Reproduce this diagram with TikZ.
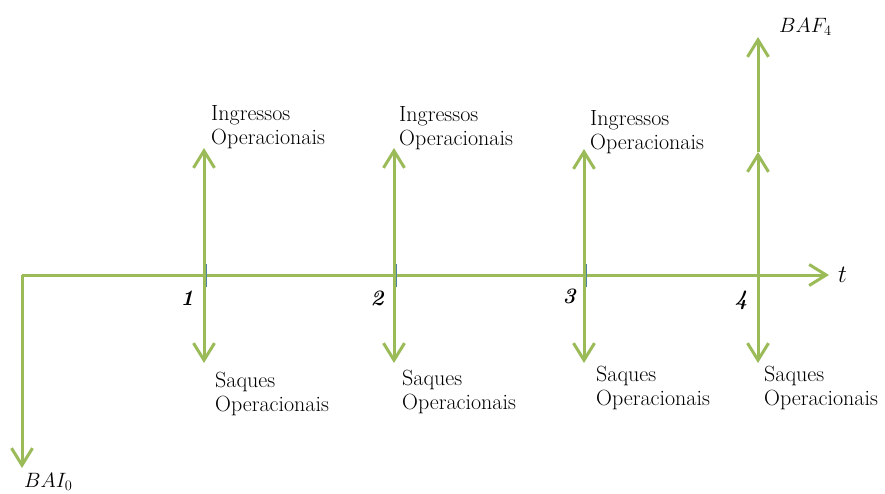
\documentclass[tikz,border=0pt]{standalone}
\usepackage{amsmath, amssymb}
\usepackage{xcolor}
\usepackage{tikz}
\usetikzlibrary{arrows.meta, positioning, calc}
\definecolor{flowgreen}{RGB}{155,187,89}
\definecolor{tickblue}{RGB}{79,129,160}

\begin{document}
\begin{tikzpicture}[x=1pt, y=-1pt,
  flow/.style={flowgreen, line width=3pt, -{Straight Barb[length=17pt, width=21pt, line width=3pt]}},
  tickmark/.style={tickblue, line width=1.2pt},
  flowlabel/.style={anchor=base west, align=left, inner sep=0pt, font=\fontsize{22}{24}\selectfont},
  periodlabel/.style={anchor=base, inner sep=0pt, font=\fontsize{22}{24}\selectfont\bfseries\itshape},
  mathlabel/.style={anchor=base west, inner sep=0pt, font=\fontsize{21}{24}\selectfont}
]
  \useasboundingbox (0,0) rectangle (885,493);
  % time axis
  \coordinate (p0) at (22,275);
  \coordinate (p1) at (204,275);
  \coordinate (p2) at (394,275);
  \coordinate (p3) at (584,275);
  \coordinate (p4) at (758,275);
  \coordinate (tend) at (829,275);
  \coordinate (bai0) at (22,468);
  \draw[flowgreen, line width=3pt] (p0) -- (p4);
  \draw[flow] (p0) -- (bai0);
  \draw[flow] (p4) -- (tend);
  \node[mathlabel] (tlab) at (838,282) {\fontsize{27}{30}\selectfont$t$};
  \node[mathlabel] (bai) at (24,487) {$BAI_0$};
  % small ticks
  \draw[tickmark] ($(p1)+(2,-11)$) -- ($(p1)+(2,12)$);
  \draw[tickmark] ($(p2)+(2,-11)$) -- ($(p2)+(2,12)$);
  \draw[tickmark] ($(p3)+(2,-11)$) -- ($(p3)+(2,12)$);
  % period labels
  \node[periodlabel] (n1) at (187,305) {1};
  \node[periodlabel] (n2) at (377,305) {2};
  \node[periodlabel] (n3) at (569,303) {3};
  \node[periodlabel] (n4) at (741,305) {4};
  % inflows
  \coordinate (in1) at (204,148);
  \coordinate (in2) at (394,148);
  \coordinate (in3) at (584,149);
  \coordinate (in4) at (758,152);
  \coordinate (baf) at (758,37);
  \draw[flow] (p1) -- (in1);
  \draw[flow] (p2) -- (in2);
  \draw[flow] (p3) -- (in3);
  \draw[flow] (p4) -- (in4);
  \draw[flow] (in4) -- (baf);
  \node[flowlabel] (ing1) at (211,144) {Ingressos\\Operacionais};
  \node[flowlabel] (ing2) at (399,145) {Ingressos\\Operacionais};
  \node[flowlabel] (ing3) at (590,149) {Ingressos\\Operacionais};
  \node[mathlabel] (baflab) at (779,32) {$BAF_4$};
  % outflows
  \coordinate (out1) at (204,363);
  \coordinate (out2) at (394,363);
  \coordinate (out3) at (584,363);
  \coordinate (out4) at (758,363);
  \draw[flow] (p1) -- (out1);
  \draw[flow] (p2) -- (out2);
  \draw[flow] (p3) -- (out3);
  \draw[flow] (p4) -- (out4);
  \node[flowlabel] (saq1) at (215,411) {Saques\\Operacionais};
  \node[flowlabel] (saq2) at (402,409) {Saques\\Operacionais};
  \node[flowlabel] (saq3) at (596,405) {Saques\\Operacionais};
  \node[flowlabel] (saq4) at (764,405) {Saques\\Operacionais};
\end{tikzpicture}
\end{document}
